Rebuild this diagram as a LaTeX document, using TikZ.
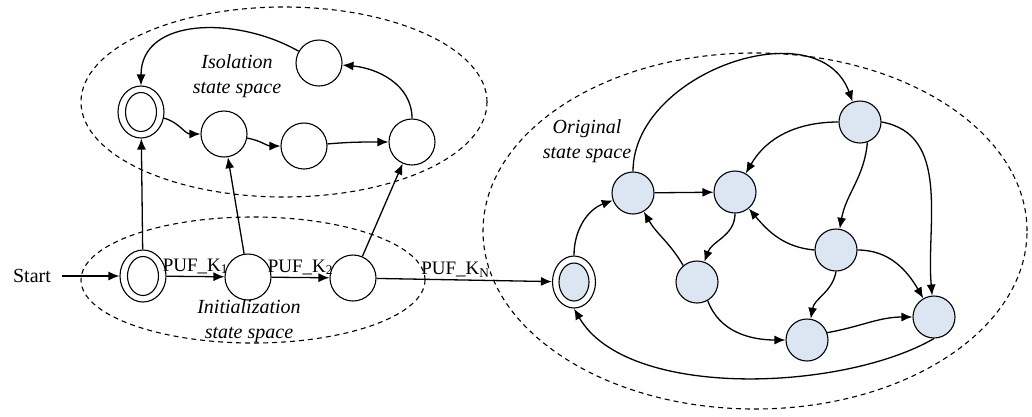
\documentclass[tikz,border=0pt]{standalone}
\usepackage{fontspec}
\setmainfont{Liberation Serif}
\usetikzlibrary{arrows.meta, shapes.geometric, positioning}
\definecolor{statefill}{RGB}{220,230,242}

\begin{document}
\begin{tikzpicture}[
        x=1pt, y=1pt,
        font=\fontsize{20}{25}\selectfont,
        state/.style={
            circle, draw, fill=#1, minimum size=46pt,
            inner sep=0pt, line width=1.1pt,
        },
        state/.default=white,
        accept/.style={
            ellipse, draw, fill=white, minimum width=46pt,
            minimum height=52pt, inner sep=0pt, line width=1.1pt,
        },
        core/.style={
            ellipse, draw, fill=#1, minimum width=31pt,
            minimum height=39pt, inner sep=0pt, line width=1.1pt,
        },
        core/.default=white,
        space/.style={ellipse, draw, dash pattern=on 5pt off 4pt, line width=1.1pt},
        edge/.style={-{Latex[length=11pt, width=9pt]}, line width=1.3pt},
        label/.style={font=\fontsize{19}{22}\selectfont, inner sep=2pt},
        title/.style={align=center, font=\fontsize{20}{25}\selectfont\itshape},
    ]
        \useasboundingbox (0,0) rectangle (1032,-416);

        % state spaces
        \node[space, minimum width=406pt, minimum height=190pt] (isoSpace) at (284,-102) {};
        \node[space, minimum width=344pt, minimum height=126pt] (initSpace) at (253,-280) {};
        \node[space, minimum width=544pt, minimum height=356pt] (origSpace) at (755,-231) {};

        \node[title] (isoText) at (237,-76) {Isolation\\state space};
        \node[title] (initText) at (249,-321) {Initialization\\state space};
        \node[title] (origText) at (587,-141) {Original\\state space};

        % isolation states
        \node[accept] (I0) at (141,-112) {};
        \node[core] (I0c) at (I0) {};
        \node[state] (I1) at (224,-134) {};
        \node[state] (I2) at (304,-146) {};
        \node[state] (I3) at (412,-142) {};
        \node[state] (I4) at (319,-63) {};

        % initialization states
        \node (start) at (32,-276) {Start};
        \node[accept] (S0) at (143,-276) {};
        \node[core] (S0c) at (S0) {};
        \node[state] (S1) at (248,-277) {};
        \node[state] (S2) at (353,-278) {};

        % original states
        \node[accept, minimum width=43pt] (O0) at (574,-282) {};
        \node[core=statefill, minimum width=30pt, minimum height=38pt] (O0c) at (O0) {};
        \node[state=statefill, minimum size=42pt] (O1) at (633,-193) {};
        \node[state=statefill, minimum size=42pt] (O2) at (735,-192) {};
        \node[state=statefill, minimum size=42pt] (O3) at (860,-122) {};
        \node[state=statefill, minimum size=42pt] (O4) at (697,-282) {};
        \node[state=statefill, minimum size=42pt] (O5) at (836,-250) {};
        \node[state=statefill, minimum size=42pt] (O6) at (807,-340) {};
        \node[state=statefill, minimum size=42pt] (O7) at (934,-317) {};

        % isolation loop
        \draw[edge] (I0) to[out=-15, in=180] (I1);
        \draw[edge] (I1) to[out=-10, in=180] (I2);
        \draw[edge] (I2) to[out=5, in=180] (I3);
        \draw[edge] (I3.north) to[out=90, in=-5] (I4);
        \draw[edge] (I4.150) to[out=150, in=90, looseness=1.1] (I0.north);

        % initialization chain
        \draw[edge, shorten <=8pt] (start) -- (S0);
        \draw[edge] (S0) -- node[label, above] {PUF\_K\textsubscript{1}} (S1);
        \draw[edge] (S1) -- node[label, above] {PUF\_K\textsubscript{2}} (S2);
        \draw[edge] (S2) -- node[label, above, pos=0.45] {PUF\_K\textsubscript{N}} (O0);
        \draw[edge] (S0) -- (I0);
        \draw[edge] (S1) -- (I1);
        \draw[edge] (S2) -- (I3);

        % original state space
        \draw[edge] (O0.north) to[out=90, in=200] (O1);
        \draw[edge] (O1) -- (O2);
        \draw[edge] (O1.north) to[out=90, in=110, looseness=1.1] (O3);
        \draw[edge] (O3) to[out=180, in=60] (O2);
        \draw[edge] (O3.-70) to[out=-95, in=80] (O5);
        \draw[edge] (O3.east) to[out=-10, in=95] (O7);
        \draw[edge] (O2.south) to[out=-90, in=70] (O4);
        \draw[edge] (O4.130) to[out=120, in=-60] (O1);
        \draw[edge] (O5.west) to[out=175, in=-50] (O2);
        \draw[edge] (O5.east) to[out=0, in=120] (O7);
        \draw[edge] (O5.south) to[out=-100, in=80] (O6);
        \draw[edge] (O4.-60) to[out=-70, in=180] (O6);
        \draw[edge] (O6.20) to[out=10, in=180] (O7);
        \draw[edge] (O7.south) to[out=-150, in=-60, looseness=0.75] (O0.south);
    \end{tikzpicture}
\end{document}
